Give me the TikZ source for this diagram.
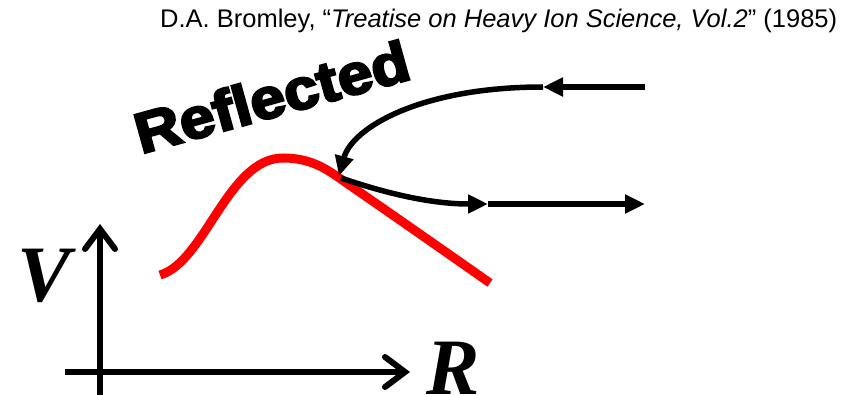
\documentclass[tikz,border=0pt]{standalone}
\usepackage{fontspec}
\setmainfont{Liberation Sans}
\newfontfamily\citefont{Liberation Sans}
\newfontfamily\heavyfont{Liberation Sans Bold}[FakeBold=4]
\newfontfamily\axisfont{Liberation Serif Bold Italic}
\usetikzlibrary{arrows.meta}
\begin{document}
\begin{tikzpicture}[x=1pt,y=-1pt,
  traj/.style={line width=5.5pt},
  trajarrow/.style={traj,-{Triangle[length=20pt,width=18pt]}},
  axisline/.style={line width=6pt,-{Straight Barb[length=20pt,width=30pt,line cap=round]}},
  barrier/.style={line width=9pt,red},
  axislabel/.style={inner sep=0pt,font=\axisfont\fontsize{80}{80}\selectfont}]
\useasboundingbox (0,0) rectangle (854,395);
% citation
\node[anchor=base west,inner sep=0pt,font=\citefont\fontsize{25.5}{26}\selectfont] (cite) at (160,28)
  {D.A. Bromley, “\textit{Treatise on Heavy Ion Science, Vol.2}” (1985)};
% Reflected label
\node[anchor=base west,inner sep=0pt,rotate=15.5,xscale=1.1,font=\heavyfont\fontsize{57}{57}\selectfont] (refl) at (141,154) {Reflected};
% barrier
\draw[barrier] (160,275) .. controls (205,262) and (228,158) .. (283,158)
  .. controls (312,158) and (328,170) .. (345,182) .. controls (400,220) and (450,255) .. (490,283);
% coordinates for trajectories
\coordinate (in0) at (645,87);
\coordinate (in1) at (543,87);
\coordinate (hit) at (339,176);
\coordinate (start) at (341,178);
\coordinate (out1) at (488,204);
\coordinate (out2) at (645,204);
\draw[trajarrow] (in0) -- (in1);
\draw[trajarrow] (in1) .. controls (420,87) and (352,128) .. (hit);
\draw[trajarrow] (start) .. controls (385,193) and (430,204) .. (out1);
\draw[trajarrow] (out1) -- (out2);
% axes
\coordinate (ybot) at (100,395);
\coordinate (ytop) at (100,224);
\coordinate (xl) at (65,372);
\coordinate (xr) at (410,372);
\draw[axisline] (ybot) -- (ytop);
\draw[axisline] (xl) -- (xr);
\node[axislabel] (V) at (44,276) {V};
\node[axislabel] (R) at (453,368) {R};
\end{tikzpicture}
\end{document}
